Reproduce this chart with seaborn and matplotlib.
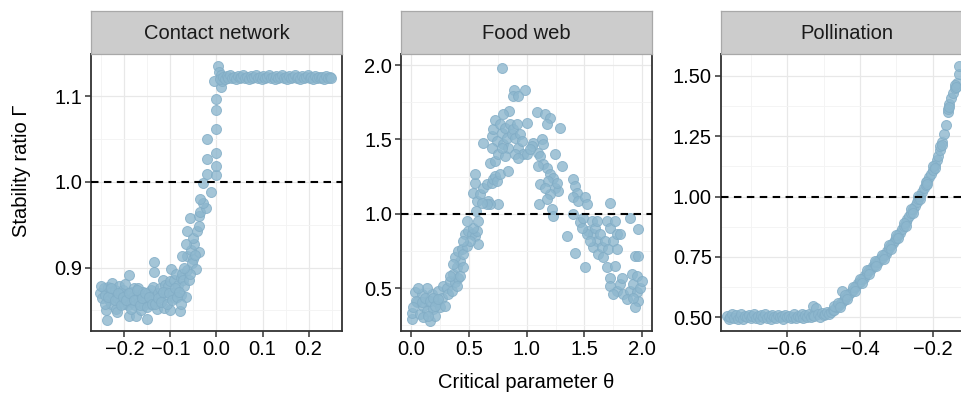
import matplotlib
matplotlib.use("Agg")
import matplotlib.pyplot as plt
from matplotlib.ticker import MultipleLocator
import seaborn as sns
import pandas as pd

# ---------------- data ----------------
panel_titles = ["Contact network", "Food web", "Pollination"]
x_label = "Critical parameter \u03b8"
y_label = "Stability ratio \u0393"

contact_points = [
    (-0.252, 0.870), (-0.248, 0.864), (-0.245, 0.876), (-0.242, 0.868), (-0.240, 0.850), (-0.238, 0.839),
    (-0.236, 0.877), (-0.233, 0.862), (-0.230, 0.872), (-0.228, 0.858), (-0.226, 0.882), (-0.224, 0.868),
    (-0.221, 0.874), (-0.219, 0.852), (-0.217, 0.848), (-0.215, 0.865), (-0.212, 0.878), (-0.210, 0.860),
    (-0.207, 0.870), (-0.205, 0.864), (-0.202, 0.874), (-0.200, 0.858), (-0.198, 0.881), (-0.196, 0.868),
    (-0.193, 0.856), (-0.191, 0.891), (-0.189, 0.844), (-0.186, 0.872), (-0.184, 0.860), (-0.182, 0.866),
    (-0.180, 0.876), (-0.177, 0.856), (-0.175, 0.844), (-0.173, 0.868), (-0.170, 0.876), (-0.168, 0.860),
    (-0.165, 0.868), (-0.163, 0.850), (-0.160, 0.872), (-0.158, 0.856), (-0.155, 0.864), (-0.153, 0.862),
    (-0.150, 0.840), (-0.148, 0.870), (-0.145, 0.858), (-0.143, 0.874), (-0.140, 0.862), (-0.137, 0.877),
    (-0.135, 0.906), (-0.135, 0.895), (-0.132, 0.866), (-0.130, 0.852), (-0.127, 0.870), (-0.125, 0.860),
    (-0.122, 0.876), (-0.120, 0.868), (-0.117, 0.886), (-0.115, 0.853), (-0.112, 0.880), (-0.110, 0.872),
    (-0.107, 0.866), (-0.105, 0.878), (-0.102, 0.884), (-0.100, 0.850), (-0.098, 0.898), (-0.095, 0.870),
    (-0.093, 0.885), (-0.090, 0.865), (-0.088, 0.892), (-0.085, 0.874), (-0.083, 0.880), (-0.080, 0.849),
    (-0.078, 0.888), (-0.076, 0.868), (-0.074, 0.893), (-0.072, 0.886), (-0.070, 0.878), (-0.067, 0.866),
    (-0.250, 0.878), (-0.243, 0.858), (-0.235, 0.866), (-0.228, 0.876), (-0.220, 0.862), (-0.214, 0.870),
    (-0.208, 0.856), (-0.203, 0.866), (-0.197, 0.862), (-0.190, 0.870), (-0.185, 0.852), (-0.179, 0.862),
    (-0.172, 0.874), (-0.166, 0.856), (-0.161, 0.864), (-0.156, 0.870), (-0.151, 0.854), (-0.146, 0.866),
    (-0.141, 0.858), (-0.133, 0.858), (-0.128, 0.864), (-0.121, 0.860), (-0.116, 0.872), (-0.108, 0.858),
    (-0.103, 0.870), (-0.096, 0.862), (-0.091, 0.876), (-0.086, 0.866), (-0.081, 0.872), (-0.077, 0.858),
    (-0.064, 0.897), (-0.063, 0.913), (-0.074, 0.913), (-0.050, 0.910), (-0.054, 0.905), (-0.045, 0.898),
    (-0.037, 0.918), (-0.055, 0.921), (-0.049, 0.928), (-0.067, 0.927), (-0.050, 0.935), (-0.063, 0.943),
    (-0.043, 0.943), (-0.037, 0.948), (-0.057, 0.958), (-0.037, 0.960), (-0.036, 0.965), (-0.022, 0.970),
    (-0.030, 0.975), (-0.035, 0.980), (-0.011, 0.988), (-0.030, 0.999), (-0.020, 1.009), (0.000, 1.008),
    (-0.002, 1.018), (-0.020, 1.026), (-0.002, 1.033), (-0.020, 1.050), (-0.002, 1.061), (-0.002, 1.084),
    (0.000, 1.097), (0.009, 1.111), (-0.006, 1.118), (0.004, 1.135), (0.006, 1.128), (0.010, 1.124),
    (0.012, 1.117), (0.008, 1.120), (-0.060, 0.885), (-0.058, 0.892), (-0.070, 0.900), (-0.047, 0.915),
    (0.014, 1.122), (0.018, 1.120), (0.022, 1.123), (0.026, 1.121), (0.030, 1.124), (0.034, 1.121),
    (0.038, 1.122), (0.042, 1.120), (0.046, 1.123), (0.050, 1.121), (0.054, 1.122), (0.058, 1.124),
    (0.062, 1.121), (0.066, 1.122), (0.070, 1.120), (0.074, 1.123), (0.078, 1.121), (0.082, 1.122),
    (0.086, 1.124), (0.090, 1.121), (0.094, 1.122), (0.098, 1.120), (0.102, 1.123), (0.106, 1.121),
    (0.110, 1.122), (0.114, 1.124), (0.118, 1.121), (0.122, 1.122), (0.126, 1.120), (0.130, 1.123),
    (0.134, 1.121), (0.138, 1.122), (0.142, 1.124), (0.146, 1.121), (0.150, 1.122), (0.154, 1.120),
    (0.158, 1.123), (0.162, 1.121), (0.166, 1.122), (0.170, 1.124), (0.174, 1.121), (0.178, 1.122),
    (0.182, 1.120), (0.186, 1.123), (0.190, 1.121), (0.194, 1.122), (0.198, 1.124), (0.202, 1.121),
    (0.206, 1.122), (0.210, 1.120), (0.214, 1.123), (0.218, 1.121), (0.222, 1.122), (0.226, 1.121),
    (0.230, 1.122), (0.234, 1.120), (0.238, 1.123), (0.242, 1.121), (0.246, 1.122), (0.248, 1.121),
]

foodweb_points = [
    (0.006, 0.293), (0.006, 0.337), (0.035, 0.472), (0.049, 0.405), (0.078, 0.326), (0.092, 0.460),
    (0.107, 0.382), (0.135, 0.349), (0.150, 0.416), (0.164, 0.281), (0.179, 0.460), (0.193, 0.360),
    (0.207, 0.315), (0.222, 0.405), (0.236, 0.483), (0.251, 0.371), (0.265, 0.438), (0.280, 0.516),
    (0.141, 0.501), (0.063, 0.505), (0.043, 0.416), (0.092, 0.405), (0.121, 0.438), (0.164, 0.416),
    (0.193, 0.438), (0.020, 0.371), (0.107, 0.304), (0.150, 0.315), (0.207, 0.382), (0.236, 0.427),
    (0.294, 0.382),
    (0.308, 0.505), (0.323, 0.460), (0.337, 0.550), (0.352, 0.483), (0.366, 0.595), (0.380, 0.539),
    (0.395, 0.640), (0.409, 0.572), (0.424, 0.684), (0.380, 0.707), (0.409, 0.752), (0.438, 0.763),
    (0.452, 0.640), (0.366, 0.662), (0.337, 0.584), (0.395, 0.516), (0.424, 0.584), (0.452, 0.729),
    (0.481, 0.785), (0.467, 0.863), (0.496, 0.886), (0.524, 0.863), (0.553, 0.852), (0.582, 0.796),
    (0.568, 0.886), (0.539, 0.908), (0.481, 0.953), (0.582, 0.953), (0.510, 0.819), (0.452, 0.819),
    (0.539, 1.143), (0.553, 1.210), (0.553, 1.271), (0.568, 1.087), (0.562, 1.020), (0.597, 1.132),
    (0.625, 1.177), (0.654, 1.199), (0.669, 1.087), (0.697, 1.210), (0.712, 1.233), (0.726, 1.255),
    (0.741, 1.222), (0.755, 1.065), (0.683, 1.065), (0.769, 1.266), (0.654, 1.065), (0.611, 1.076),
    (0.625, 1.479), (0.697, 1.524), (0.712, 1.569), (0.726, 1.629), (0.741, 1.490), (0.697, 1.445),
    (0.683, 1.345), (0.726, 1.356), (0.755, 1.401), (0.769, 1.602), (0.784, 1.546), (0.798, 1.468),
    (0.813, 1.580), (0.827, 1.513), (0.841, 1.445), (0.856, 1.602), (0.850, 1.692), (0.870, 1.535),
    (0.885, 1.569), (0.899, 1.513), (0.914, 1.602), (0.928, 1.445), (0.942, 1.535), (0.957, 1.490),
    (0.971, 1.401), (1.000, 1.613), (0.813, 1.390), (0.784, 1.445), (0.841, 1.289), (0.899, 1.401),
    (0.928, 1.378),
    (0.784, 1.983), (0.890, 1.830), (0.986, 1.830), (0.885, 1.792), (0.928, 1.792), (0.798, 1.669),
    (1.086, 1.687), (1.159, 1.669), (1.202, 1.647), (1.173, 1.602), (1.288, 1.580), (1.058, 1.475),
    (1.130, 1.501), (1.144, 1.468), (1.245, 1.401), (1.101, 1.412), (1.043, 1.457), (1.000, 1.401),
    (1.029, 1.434), (1.115, 1.390), (1.303, 1.322), (1.144, 1.334), (1.173, 1.311), (1.101, 1.322),
    (1.202, 1.266), (1.231, 1.244), (1.115, 1.199), (1.187, 1.222), (1.245, 1.177), (1.274, 1.154),
    (1.202, 1.132), (1.159, 1.177), (1.259, 1.210), (1.110, 1.069), (1.216, 1.031), (1.231, 0.987),
    (1.173, 1.098),
    (1.403, 1.233), (1.418, 1.188), (1.432, 1.143), (1.403, 1.110), (1.447, 1.087), (1.504, 1.110),
    (1.519, 1.065), (1.403, 0.998), (1.461, 0.942), (1.533, 0.886), (1.576, 0.863), (1.605, 0.819),
    (1.576, 0.774), (1.620, 0.729), (1.663, 0.707), (1.418, 0.740), (1.346, 0.852), (1.504, 0.640),
    (1.490, 0.975), (1.562, 0.953), (1.519, 0.863), (1.476, 0.908), (1.548, 0.819), (1.591, 0.908),
    (1.634, 0.863), (1.648, 0.774), (1.677, 0.819), (1.605, 0.953),
    (1.720, 1.076), (1.692, 0.953), (1.720, 0.908), (1.749, 0.819), (1.778, 0.863), (1.807, 0.863),
    (1.764, 0.953), (1.706, 0.763), (1.778, 0.763), (1.692, 0.640), (1.764, 0.651), (1.720, 0.572),
    (1.720, 0.516), (1.778, 0.483), (1.807, 0.528), (1.836, 0.460), (1.893, 0.483), (1.922, 0.528),
    (1.908, 0.595), (1.951, 0.584), (1.965, 0.416), (1.937, 0.371), (1.951, 0.472), (1.980, 0.505),
    (1.937, 0.718), (1.965, 0.718), (1.965, 0.897), (1.893, 0.975), (1.749, 0.460), (1.865, 0.427),
    (1.821, 0.572), (1.922, 0.438), (1.994, 0.550),
]

pollination_points = [
    (-0.765, 0.505), (-0.760, 0.493), (-0.755, 0.500), (-0.750, 0.512), (-0.745, 0.497), (-0.740, 0.508),
    (-0.735, 0.494), (-0.730, 0.503), (-0.725, 0.512), (-0.720, 0.491), (-0.715, 0.506), (-0.710, 0.499),
    (-0.705, 0.510), (-0.700, 0.495), (-0.695, 0.504), (-0.690, 0.513), (-0.685, 0.497), (-0.680, 0.505),
    (-0.675, 0.492), (-0.670, 0.509), (-0.665, 0.500), (-0.660, 0.514), (-0.655, 0.496), (-0.650, 0.506),
    (-0.645, 0.494), (-0.640, 0.511), (-0.635, 0.502), (-0.630, 0.496), (-0.625, 0.508), (-0.620, 0.499),
    (-0.615, 0.505), (-0.610, 0.493), (-0.605, 0.510), (-0.600, 0.500), (-0.595, 0.507), (-0.590, 0.496),
    (-0.585, 0.503), (-0.580, 0.512), (-0.575, 0.498), (-0.570, 0.506), (-0.565, 0.501), (-0.560, 0.514),
    (-0.555, 0.497), (-0.550, 0.508), (-0.545, 0.503), (-0.540, 0.515), (-0.535, 0.500), (-0.530, 0.510),
    (-0.528, 0.545), (-0.520, 0.540), (-0.525, 0.505), (-0.515, 0.512), (-0.510, 0.503), (-0.505, 0.516),
    (-0.500, 0.508), (-0.495, 0.514), (-0.490, 0.520), (-0.485, 0.512),
    (-0.480, 0.522), (-0.475, 0.530), (-0.470, 0.532), (-0.465, 0.542), (-0.460, 0.546), (-0.455, 0.556),
    (-0.450, 0.562), (-0.450, 0.608), (-0.445, 0.570), (-0.440, 0.578), (-0.435, 0.590), (-0.430, 0.595),
    (-0.425, 0.606), (-0.420, 0.612), (-0.415, 0.624), (-0.410, 0.628), (-0.405, 0.640), (-0.400, 0.645),
    (-0.395, 0.657), (-0.390, 0.663), (-0.385, 0.676), (-0.380, 0.682), (-0.375, 0.694), (-0.370, 0.700),
    (-0.365, 0.712), (-0.360, 0.718), (-0.355, 0.728), (-0.350, 0.730), (-0.345, 0.742), (-0.340, 0.745),
    (-0.335, 0.758), (-0.330, 0.762), (-0.325, 0.776), (-0.320, 0.785), (-0.315, 0.798), (-0.310, 0.806),
    (-0.305, 0.820), (-0.300, 0.828), (-0.295, 0.842), (-0.290, 0.850), (-0.285, 0.866), (-0.280, 0.878),
    (-0.275, 0.893), (-0.270, 0.906), (-0.265, 0.920), (-0.260, 0.933), (-0.255, 0.948), (-0.250, 0.961),
    (-0.245, 0.976), (-0.240, 0.989), (-0.235, 1.002), (-0.230, 1.018), (-0.225, 1.034), (-0.220, 1.050),
    (-0.215, 1.065), (-0.210, 1.080), (-0.205, 1.095), (-0.200, 1.110), (-0.195, 1.130), (-0.190, 1.150),
    (-0.185, 1.170), (-0.180, 1.195), (-0.175, 1.225), (-0.170, 1.258), (-0.165, 1.295), (-0.160, 1.350),
    (-0.155, 1.385), (-0.150, 1.410), (-0.145, 1.430), (-0.140, 1.450), (-0.135, 1.470), (-0.130, 1.510),
    (-0.128, 1.540),
    (-0.470, 0.545), (-0.460, 0.560), (-0.440, 0.592), (-0.420, 0.625), (-0.400, 0.658), (-0.380, 0.695),
    (-0.360, 0.732), (-0.340, 0.760), (-0.320, 0.800), (-0.300, 0.842), (-0.280, 0.892), (-0.260, 0.948),
    (-0.240, 1.003), (-0.220, 1.062), (-0.200, 1.125), (-0.180, 1.210), (-0.160, 1.362), (-0.140, 1.462),
    (-0.455, 0.542), (-0.435, 0.575), (-0.415, 0.608), (-0.395, 0.642), (-0.375, 0.680), (-0.355, 0.712),
    (-0.335, 0.742), (-0.315, 0.782), (-0.295, 0.828), (-0.275, 0.878), (-0.255, 0.932), (-0.235, 0.990),
    (-0.215, 1.052), (-0.195, 1.118), (-0.175, 1.212), (-0.155, 1.372), (-0.138, 1.455),
]

# tick values / labels
x_ticks = [[-0.2, -0.1, 0.0, 0.1, 0.2], [0.0, 0.5, 1.0, 1.5, 2.0], [-0.6, -0.4, -0.2]]
x_tick_labels = [["\u22120.2", "\u22120.1", "0.0", "0.1", "0.2"],
                 ["0.0", "0.5", "1.0", "1.5", "2.0"],
                 ["\u22120.6", "\u22120.4", "\u22120.2"]]
y_ticks = [[0.9, 1.0, 1.1], [0.5, 1.0, 1.5, 2.0], [0.50, 0.75, 1.00, 1.25, 1.50]]
y_tick_labels = [["0.9", "1.0", "1.1"],
                 ["0.5", "1.0", "1.5", "2.0"],
                 ["0.50", "0.75", "1.00", "1.25", "1.50"]]
x_minor = [0.05, 0.25, 0.1]
y_minor = [0.05, 0.25, 0.125]
x_limits = [(-0.2725, 0.2725), (-0.086, 2.084), (-0.781, -0.093)]
y_limits = [(0.826, 1.149), (0.213, 2.074), (0.443, 1.591)]

# ---------------- style ----------------
sns.set_theme(style="white")
plt.rcParams["font.family"] = ["Liberation Sans", "DejaVu Sans"]

W, H = 962, 393
fig = plt.figure(figsize=(W / 100, H / 100), dpi=100)

panel_left = [91, 401, 721]
panel_right = [342, 652, 972]
p_top, p_bottom = 54, 331
s_top = 11

PT = "#8db7ce"
EDGE = "#82adc6"
FS = 14.5

datasets = [contact_points, foodweb_points, pollination_points]

for i in range(3):
    l, r = panel_left[i], panel_right[i]
    ax = fig.add_axes([l / W, (H - p_bottom) / H, (r - l) / W, (p_bottom - p_top) / H])
    df = pd.DataFrame(datasets[i], columns=["theta", "gamma"])
    sns.scatterplot(data=df, x="theta", y="gamma", ax=ax, color=PT, alpha=0.8,
                    s=52, edgecolor=EDGE, linewidth=0.7, zorder=2, legend=False)
    ax.axhline(1.0, color="black", lw=1.5, ls=(0, (3.6, 2.6)), zorder=3)
    ax.set_xlim(*x_limits[i])
    ax.set_ylim(*y_limits[i])
    ax.set_xticks(x_ticks[i])
    ax.set_xticklabels(x_tick_labels[i])
    ax.set_yticks(y_ticks[i])
    ax.set_yticklabels(y_tick_labels[i])
    ax.xaxis.set_minor_locator(MultipleLocator(x_minor[i]))
    ax.yaxis.set_minor_locator(MultipleLocator(y_minor[i]))
    ax.set_axisbelow(True)
    ax.grid(which="major", color="#e8e8e8", lw=0.9)
    ax.grid(which="minor", color="#f3f3f3", lw=0.6)
    ax.set_facecolor("white")
    for sp in ax.spines.values():
        sp.set_color("#333333")
        sp.set_linewidth(1.3)
    ax.tick_params(which="major", direction="out", length=4, width=1.1, color="#333333",
                   labelsize=FS, labelcolor="black", pad=2.5, bottom=True, left=True)
    ax.tick_params(which="minor", length=0)
    ax.set_xlabel("")
    ax.set_ylabel("")

    sax = fig.add_axes([l / W, (H - p_top) / H, (r - l) / W, (p_top - s_top) / H])
    sax.set_facecolor("#cccccc")
    sax.set_xticks([])
    sax.set_yticks([])
    for sp in sax.spines.values():
        sp.set_color("#a8a8a8")
        sp.set_linewidth(0.9)
    sax.text(0.5, 0.47, panel_titles[i], ha="center", va="center", fontsize=FS,
             color="#1a1a1a", transform=sax.transAxes)

fig.text(526 / W, 1 - 383 / H, x_label, ha="center", va="center", fontsize=FS, color="black")
fig.text(22 / W, 1 - 171 / H, y_label, ha="center", va="center", fontsize=FS,
         rotation=90, color="black")

fig.savefig("out.png", dpi=100)
